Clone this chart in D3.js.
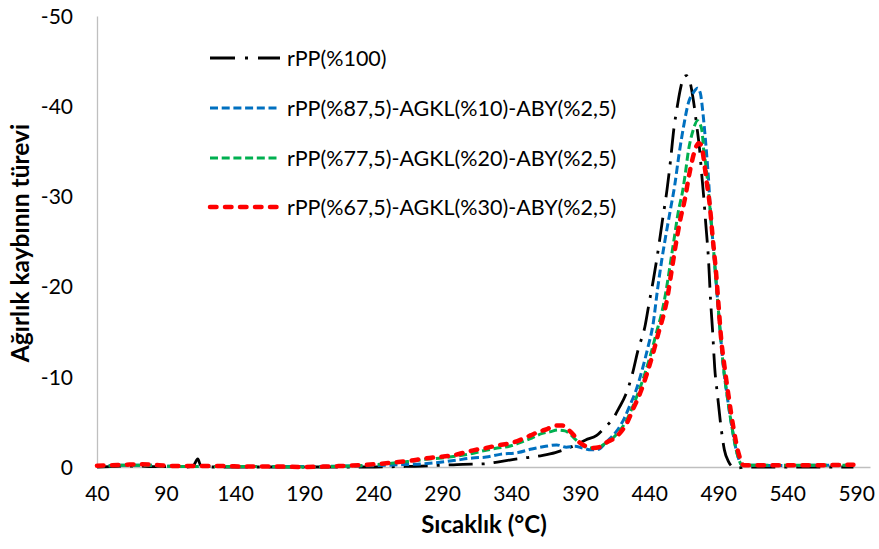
<!DOCTYPE html>
<html>
<head>
<meta charset="utf-8">
<script src="https://cdn.jsdelivr.net/npm/d3@7"></script>
<style>
  body { margin: 0; background: #fff; }
  text { font-family: Lato, "Open Sans", sans-serif; fill: #000; }
</style>
</head>
<body>
<div id="chart"></div>
<script>
// Sıcaklık (°C) / türev değerleri
const rPP100 = [
  [40,0],[50,-0.05],[60,-0.1],[70,-0.1],[80,-0.05],[95,-0.05],[105,0],[110,-0.2],[113,-0.9],[115,-0.2],[120,0],
  [140,0],[160,0],[180,0],[200,0],[220,0],[240,0],[260,-0.05],[275,-0.1],[290,-0.2],[305,-0.3],[320,-0.35],
  [330,-0.55],[340,-0.8],[352,-1.05],[363,-1.3],[372,-1.6],[380,-2.0],[387,-2.45],[394,-3.0],[402,-3.5],
  [408,-4.4],[414,-5.4],[418,-6.5],[423,-8.0],[428,-10.4],[432,-13],[437,-15.6],[440,-18.2],[443,-20.7],
  [446,-23.5],[449.5,-27.2],[453,-30.8],[455.5,-34],[458,-37.6],[460,-39.6],[462.5,-41.8],[465,-43.2],
  [467,-43.4],[469,-43],[472,-40.7],[474.5,-37.8],[476.5,-35.3],[478,-32.6],[479.5,-30],[481,-27],[483,-23],
  [484.5,-18.5],[486,-15],[487.5,-11],[489.5,-8],[492,-4.5],[494.5,-1.9],[497.5,-0.6],[501,0],[505,0.1],
  [510,0],[530,0],[550,0],[570,0],[588,0]
]

const rPP875 = [
  [40,-0.1],[50,-0.15],[60,-0.2],[75,-0.2],[90,-0.1],[110,-0.05],[130,-0.05],[160,-0.05],[190,-0.05],
  [220,-0.1],[240,-0.15],[260,-0.25],[275,-0.35],[290,-0.55],[300,-0.75],[312,-1.0],[322,-1.1],[332,-1.4],
  [345,-1.6],[355,-2.0],[365,-2.3],[373,-2.45],[380,-2.2],[386,-2.3],[392,-2.1],[398,-1.9],[404,-2.0],
  [408,-2.6],[412,-3.2],[417,-4.1],[422,-5.4],[426,-6.8],[430.5,-8.5],[435,-10.8],[439,-13.2],[443,-16],
  [446,-19.6],[449,-22.8],[452,-25.6],[455.5,-28.6],[458.5,-31.2],[461.5,-34.5],[465,-37.8],[468.5,-40.4],
  [472,-41.5],[475,-42],[477,-41.5],[479,-39.2],[480.6,-36.6],[482,-34],[483.2,-31.5],[484.3,-28.5],
  [486.5,-24.4],[488.8,-20],[491.2,-15.5],[493.8,-11.1],[496.6,-7.8],[500,-4.4],[503.7,-1.5],[507.5,-0.2],
  [515,-0.2],[540,-0.15],[560,-0.2],[588,-0.2]
]

const rPP775 = [
  [40,-0.1],[50,-0.15],[60,-0.2],[75,-0.2],[90,-0.1],[110,-0.05],[130,-0.05],[160,-0.05],[190,0],
  [210,-0.05],[230,-0.15],[245,-0.3],[255,-0.45],[265,-0.6],[278,-0.85],[290,-1.0],[300,-1.2],[310,-1.45],
  [320,-1.8],[330,-2.1],[340,-2.35],[348,-2.8],[355,-3.2],[362,-3.7],[368,-3.9],[374,-4.1],[379,-4.0],
  [383,-3.6],[387,-3.0],[392,-2.4],[397,-2.1],[402,-2.1],[408,-2.6],[413,-3.1],[418,-3.9],[423,-5.0],
  [427,-6.3],[432,-8.2],[437,-10.4],[441.5,-12.7],[446,-15.3],[449,-17],[452,-19.3],[455,-22.2],[458,-25.2],
  [461,-28.2],[464.5,-30.8],[466,-32.3],[468.5,-35.1],[472,-37.4],[475,-38.4],[477,-38],[478.5,-37],
  [479.5,-35.2],[480.8,-33.8],[482,-32.2],[484.2,-28.5],[486.5,-24.4],[488.8,-20],[491.2,-15.5],
  [493.8,-11.1],[496.6,-7.8],[500,-4.4],[503.7,-1.5],[507.5,-0.2],[515,-0.2],[540,-0.2],[560,-0.2],[588,-0.2]
]

const rPP675 = [
  [40,-0.15],[50,-0.2],[60,-0.25],[70,-0.3],[80,-0.25],[90,-0.15],[100,-0.1],[115,-0.1],[130,-0.1],
  [150,-0.05],[170,-0.05],[190,0],[205,-0.05],[215,-0.1],[230,-0.2],[245,-0.35],[255,-0.5],[265,-0.65],
  [278,-0.95],[290,-1.15],[298,-1.3],[306,-1.6],[314,-1.9],[322,-2.1],[330,-2.4],[340,-2.65],[348,-3.1],
  [354,-3.5],[360,-3.9],[366,-4.2],[372,-4.6],[377,-4.6],[381,-4.2],[385,-3.6],[389,-2.8],[394,-2.3],
  [399,-2.1],[404,-2.2],[410,-2.8],[414,-3.1],[419,-3.8],[424,-4.9],[428,-6.3],[433.5,-8.2],[438.5,-10.4],
  [443,-12.7],[447,-15],[450,-16.6],[453,-18.6],[456,-21.5],[459,-24.4],[462.5,-27.4],[466,-29.8],
  [469,-32.4],[471.5,-34.2],[474,-35.5],[476,-35.9],[478,-35.6],[479.5,-34.2],[481.5,-31.8],[483.8,-29.2],
  [486,-25.5],[488.5,-21.5],[490.5,-17.5],[492,-14.5],[494.7,-11],[497.6,-7.8],[501,-4.4],[504.8,-1.5],
  [508.5,-0.2],[515,-0.2],[540,-0.2],[560,-0.2],[588,-0.25]
]

const seriesNames = [
  "rPP(%100)",
  "rPP(%87,5)-AGKL(%10)-ABY(%2,5)",
  "rPP(%77,5)-AGKL(%20)-ABY(%2,5)",
  "rPP(%67,5)-AGKL(%30)-ABY(%2,5)"
]
const xTicks = [40, 90, 140, 190, 240, 290, 340, 390, 440, 490, 540, 590]
const yTicks = [0, -10, -20, -30, -40, -50]

const series = [
  { name: seriesNames[0], data: rPP100, color: "#000000", width: 2.8, dash: "24 9 3 9", cap: "butt" },
  { name: seriesNames[1], data: rPP875, color: "#0070c0", width: 3, dash: "8 3.7", cap: "butt" },
  { name: seriesNames[2], data: rPP775, color: "#00b050", width: 3, dash: "8 3.7", cap: "butt" },
  { name: seriesNames[3], data: rPP675, color: "#ff0000", width: 4.5, dash: "6.5 8.5", cap: "round" }
]

const W = 879, H = 549

const svg = d3.select("#chart")
  .append("svg")
  .attr("width", W)
  .attr("height", H)

const x = d3.scaleLinear().domain([40, 600]).range([97, 870])
const y = d3.scaleLinear().domain([0, -50]).range([467, 16])

// axes
const xAxis = svg.append("g")
  .attr("transform", `translate(0,${y(0)})`)
  .call(d3.axisBottom(x).tickValues(xTicks).tickSize(0).tickSizeOuter(0).tickPadding(19).tickFormat(d => String(d)))

const yAxis = svg.append("g")
  .attr("transform", `translate(${x(40)},0)`)
  .call(d3.axisLeft(y).tickValues(yTicks).tickSize(0).tickSizeOuter(0).tickPadding(24).tickFormat(d => String(d)))

svg.selectAll(".domain").attr("stroke", "#bfbfbf").attr("stroke-width", 1.3)
svg.selectAll(".tick text")
  .attr("font-family", "Lato, 'Open Sans', sans-serif")
  .attr("font-size", 21)
  .attr("fill", "#000")
yAxis.selectAll(".tick text").attr("dy", "0.35em")

// lines
const line = d3.line()
  .x(d => x(d[0]))
  .y(d => y(d[1]))
  .curve(d3.curveMonotoneX)

svg.append("g")
  .selectAll("path")
  .data(series)
  .join("path")
  .attr("d", d => line(d.data))
  .attr("fill", "none")
  .attr("stroke", d => d.color)
  .attr("stroke-width", d => d.width)
  .attr("stroke-dasharray", d => d.dash)
  .attr("stroke-linecap", d => d.cap)

// legend
const legend = svg.append("g")
const rowY = [58, 108, 158, 207]

series.forEach((s, i) => {
  legend.append("line")
    .attr("x1", 210).attr("x2", 280)
    .attr("y1", rowY[i]).attr("y2", rowY[i])
    .attr("stroke", s.color)
    .attr("stroke-width", s.width)
    .attr("stroke-dasharray", i === 0 ? "25 10 3 10" : s.dash)
    .attr("stroke-linecap", s.cap)
  legend.append("text")
    .attr("x", 287)
    .attr("y", rowY[i])
    .attr("dy", "0.35em")
    .attr("font-size", 21.5)
    .text(s.name)
})

// axis titles
svg.append("text")
  .attr("x", 484)
  .attr("y", 533)
  .attr("text-anchor", "middle")
  .attr("font-size", 24)
  .attr("font-weight", "bold")
  .text("Sıcaklık (°C)")

svg.append("text")
  .attr("transform", "translate(29,243) rotate(-90)")
  .attr("text-anchor", "middle")
  .attr("font-size", 24.5)
  .attr("font-weight", "bold")
  .text("Ağırlık kaybının türevi")
</script>
</body>
</html>
